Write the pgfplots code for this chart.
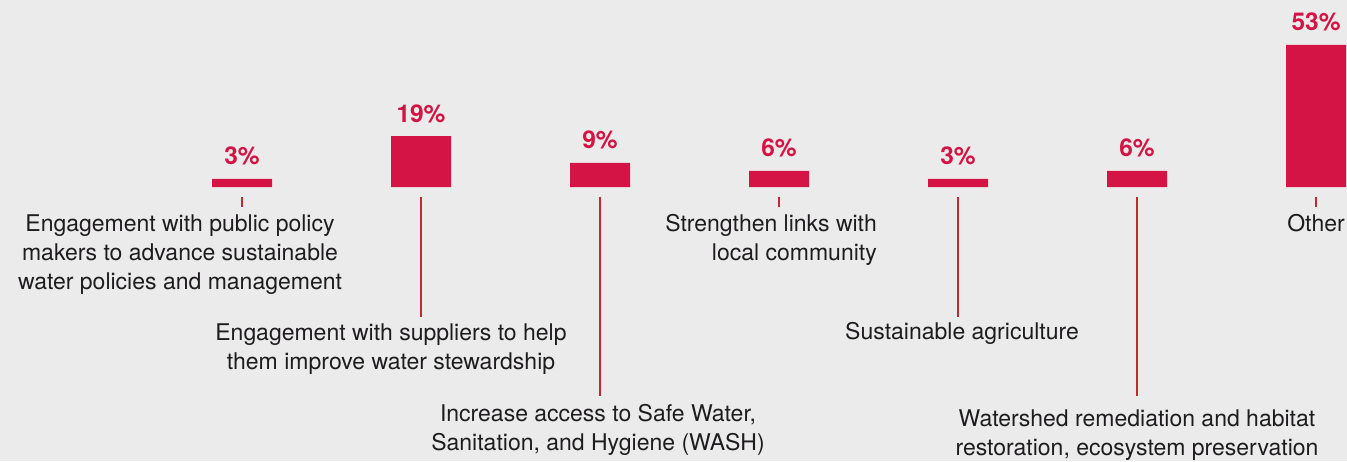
\documentclass[border=0pt]{standalone}
\usepackage{pgfplots}
\pgfplotsset{compat=1.18}
\usepackage{fontspec}
\setmainfont{TeX Gyre Heros}
\definecolor{bg}{RGB}{235,235,235}
\definecolor{barred}{RGB}{212,20,68}
\definecolor{linered}{RGB}{192,40,50}
\definecolor{txt}{RGB}{30,28,30}
\begin{document}
\begin{tikzpicture}[x=1pt,y=1pt]
\useasboundingbox (0,0) rectangle (1347,461);
\fill[bg] (0,0) rectangle (1347,461);
\begin{axis}[
  at={(0pt,0pt)}, anchor=south west,
  width=1347pt, height=461pt, scale only axis,
  hide axis, clip=false,
  xmin=-1.352, xmax=6.173,
  ymin=-102.24, ymax=69.78,
  unbounded coords=jump,
  /pgf/number format/assume math mode=true,
]
\addplot[ybar, bar width=60pt, fill=barred, draw=none,
  nodes near coords={\pgfmathprintnumber{\pgfplotspointmeta}\%},
  every node near coord/.append style={font=\fontsize{24.5}{28}\selectfont\bfseries, text=barred, anchor=base, yshift=14pt, inner sep=0pt}]
  coordinates {(0,3) (1,19) (2,9) (3,6) (4,3) (5,6) (6,53)};
\addplot[linered, line width=2pt, mark=none] coordinates {
  (0,-3.73) (0,-7.35) (0,nan)
  (1,-3.73) (1,-48.5) (1,nan)
  (2,-3.73) (2,-78.0) (2,nan)
  (3,-3.73) (3,-7.35) (3,nan)
  (4,-3.73) (4,-48.5) (4,nan)
  (5,-3.73) (5,-78.0) (5,nan)
  (6,-3.73) (6,-7.35)
};
\end{axis}
\tikzset{lbl/.style={font=\fontsize{23}{28}\selectfont, text=txt, inner sep=0pt}}
% Label 1
\node[lbl, anchor=base] at (180,{461-231.7}) {Engagement with public policy};
\node[lbl, anchor=base] at (180,{461-260.5}) {makers to advance sustainable};
\node[lbl, anchor=base] at (180,{461-289.3}) {water policies and management};
% Label 2
\node[lbl, anchor=base] at (391,{461-340}) {Engagement with suppliers to help};
\node[lbl, anchor=base] at (391,{461-369}) {them improve water stewardship};
% Label 3
\node[lbl, anchor=base] at (598,{461-421}) {Increase access to Safe Water,};
\node[lbl, anchor=base] at (598,{461-450}) {Sanitation, and Hygiene (WASH)};
% Label 4
\node[lbl, anchor=base east] at (877,{461-232}) {Strengthen links with};
\node[lbl, anchor=base east] at (877,{461-261}) {local community};
% Label 5
\node[lbl, anchor=base] at (962,{461-339.5}) {Sustainable agriculture};
% Label 6
\node[lbl, anchor=base] at (1137,{461-426.5}) {Watershed remediation and habitat};
\node[lbl, anchor=base] at (1137,{461-455}) {restoration, ecosystem preservation};
% Label 7
\node[lbl, anchor=base] at (1316,{461-232}) {Other};
\end{tikzpicture}
\end{document}
